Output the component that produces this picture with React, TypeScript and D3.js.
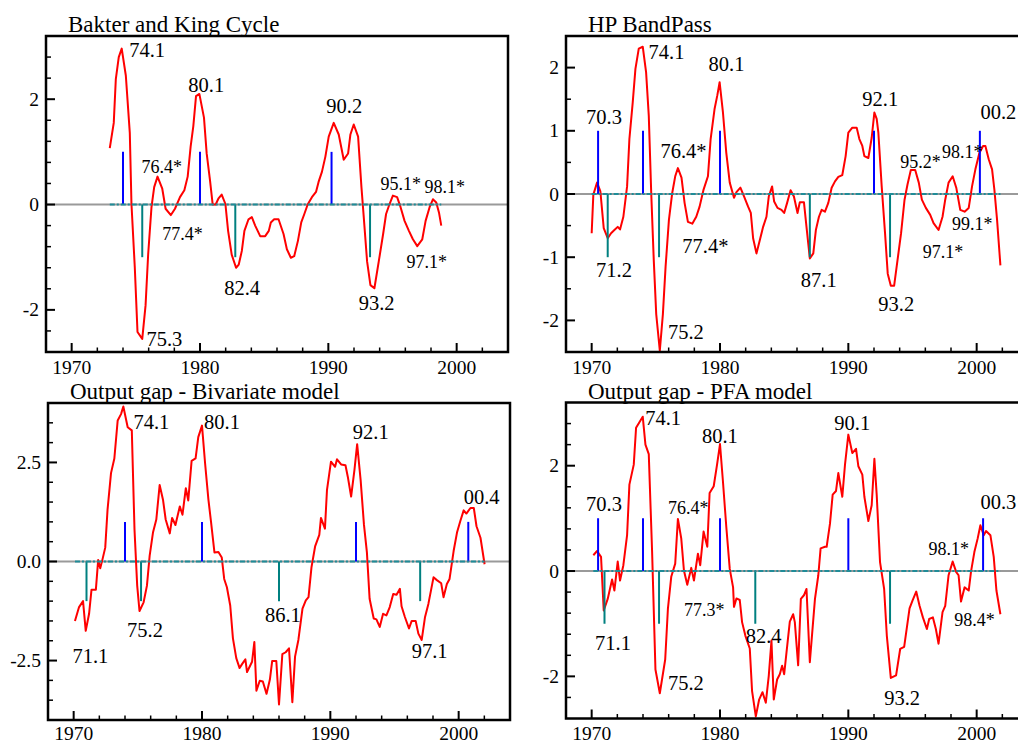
import React from 'react';
import * as d3 from 'd3';

type Pt = [number, number];
type Note = { text: string; t: number; v: number; small?: boolean };

// ---- Baxter-King cycle ----
const bkCycle: Pt[] = [
  [1972.97, 1.07], [1973.28, 1.55], [1973.44, 2.38], [1973.67, 2.8], [1973.9, 2.96], [1974.22, 2.45],
  [1974.53, 1.36], [1974.66, 0.01], [1974.92, -1.2], [1975.13, -2.42], [1975.5, -2.55], [1975.76, -1.91],
  [1975.96, -0.95], [1976.22, -0.05], [1976.43, 0.33], [1976.69, 0.53], [1977.06, 0.3], [1977.32, -0.08],
  [1977.73, -0.2], [1978.05, -0.08], [1978.44, 0.14], [1978.78, 0.27], [1979.04, 0.53], [1979.27, 1.1],
  [1979.48, 1.49], [1979.69, 2.06], [1979.95, 2.1], [1980.31, 1.65], [1980.52, 0.97], [1980.78, 0.46],
  [1980.99, 0.0], [1981.22, 0.0], [1981.43, 0.11], [1981.69, 0.19], [1981.98, 0.01], [1982.19, -0.5],
  [1982.47, -0.95], [1982.81, -1.2], [1983.02, -1.14], [1983.26, -0.88], [1983.46, -0.5], [1983.78, -0.28],
  [1984.04, -0.24], [1984.3, -0.4], [1984.69, -0.6], [1985.08, -0.6], [1985.36, -0.5], [1985.52, -0.34],
  [1985.78, -0.28], [1986.12, -0.28], [1986.51, -0.56], [1986.77, -0.85], [1987.08, -1.01], [1987.34, -0.98],
  [1987.63, -0.69], [1987.89, -0.34], [1988.13, -0.18], [1988.39, 0.0], [1988.72, 0.14], [1989.04, 0.24],
  [1989.24, 0.43], [1989.5, 0.62], [1989.77, 0.91], [1990.03, 1.29], [1990.42, 1.55], [1990.81, 1.33],
  [1991.2, 0.85], [1991.54, 0.97], [1991.72, 1.33], [1991.98, 1.52], [1992.32, 1.29], [1992.58, 0.33],
  [1992.76, -0.24], [1993.02, -1.08], [1993.28, -1.53], [1993.59, -1.59], [1993.93, -1.08], [1994.27, -0.56],
  [1994.5, -0.18], [1994.77, 0.01], [1995.03, 0.17], [1995.36, 0.14], [1995.63, -0.05], [1995.94, -0.31],
  [1996.28, -0.5], [1996.59, -0.66], [1996.93, -0.79], [1997.32, -0.66], [1997.58, -0.31], [1997.89, -0.05],
  [1998.15, 0.1], [1998.41, 0.04], [1998.62, -0.15], [1998.8, -0.4],
];
const bkPeaks = ['74.1', '80.1', '90.2'];
const bkTroughs = ['75.3', '82.4', '93.2'];
const bkNotes: Note[] = [
  { text: '74.1', t: 1974.48, v: 2.8 },
  { text: '80.1', t: 1979.09, v: 2.13 },
  { text: '76.4*', t: 1975.44, v: 0.59, small: true },
  { text: '77.4*', t: 1977.06, v: -0.67, small: true },
  { text: '82.4', t: 1981.88, v: -1.71 },
  { text: '75.3', t: 1975.83, v: -2.68 },
  { text: '90.2', t: 1989.84, v: 1.74 },
  { text: '93.2', t: 1992.37, v: -2.0 },
  { text: '95.1*', t: 1994.06, v: 0.28, small: true },
  { text: '98.1*', t: 1997.5, v: 0.22, small: true },
  { text: '97.1*', t: 1996.09, v: -1.2, small: true },
];

// ---- HP band-pass ----
const hpCycle: Pt[] = [
  [1970.0, -0.62], [1970.13, -0.01], [1970.42, 0.18], [1970.68, 0.04], [1970.94, -0.54], [1971.25, -0.7],
  [1971.51, -0.62], [1971.77, -0.57], [1972.03, -0.52], [1972.21, -0.56], [1972.47, -0.36], [1972.76, 0.12],
  [1972.94, 0.87], [1973.2, 1.45], [1973.41, 1.98], [1973.67, 2.3], [1973.98, 2.33], [1974.24, 1.93],
  [1974.45, 1.24], [1974.64, 0.02], [1974.84, -1.05], [1975.03, -1.9], [1975.31, -2.48], [1975.55, -1.9],
  [1975.76, -1.15], [1976.02, -0.41], [1976.28, 0.02], [1976.51, 0.28], [1976.72, 0.41], [1977.0, 0.26],
  [1977.24, -0.14], [1977.5, -0.44], [1977.84, -0.47], [1978.15, -0.36], [1978.41, -0.2], [1978.72, 0.07],
  [1979.06, 0.28], [1979.27, 0.87], [1979.58, 1.35], [1979.79, 1.56], [1979.97, 1.77], [1980.23, 1.29],
  [1980.49, 0.65], [1980.76, 0.18], [1981.09, -0.06], [1981.28, 0.03], [1981.59, 0.1], [1981.88, -0.04],
  [1982.19, -0.2], [1982.4, -0.3], [1982.58, -0.7], [1982.84, -0.94], [1983.1, -0.73], [1983.36, -0.52],
  [1983.62, -0.36], [1983.8, -0.04], [1984.06, 0.12], [1984.22, -0.12], [1984.48, -0.22], [1984.79, -0.25],
  [1985.0, -0.3], [1985.23, -0.14], [1985.5, 0.06], [1985.76, -0.04], [1986.04, -0.3], [1986.22, -0.13],
  [1986.54, -0.13], [1986.74, -0.52], [1987.0, -1.02], [1987.27, -0.94], [1987.47, -0.57], [1987.71, -0.36],
  [1987.92, -0.25], [1988.18, -0.28], [1988.44, -0.14], [1988.7, 0.1], [1988.96, 0.2], [1989.22, 0.27],
  [1989.53, 0.3], [1989.79, 0.6], [1990.0, 0.97], [1990.31, 1.05], [1990.65, 1.05], [1990.86, 0.87],
  [1991.09, 0.76], [1991.25, 0.6], [1991.56, 0.57], [1991.82, 0.89], [1992.03, 1.29], [1992.21, 1.19],
  [1992.34, 0.97], [1992.6, 0.12], [1992.86, -0.62], [1993.07, -1.26], [1993.31, -1.45], [1993.57, -1.45],
  [1993.83, -1.05], [1994.11, -0.62], [1994.38, -0.09], [1994.61, 0.15], [1994.87, 0.38], [1995.21, 0.38],
  [1995.49, 0.18], [1995.73, -0.09], [1996.04, -0.22], [1996.38, -0.33], [1996.64, -0.46], [1997.03, -0.57],
  [1997.34, -0.36], [1997.55, -0.09], [1997.81, 0.18], [1998.13, 0.28], [1998.41, 0.1], [1998.72, -0.25],
  [1999.06, -0.28], [1999.38, -0.22], [1999.64, 0.12], [1999.9, 0.39], [2000.21, 0.65], [2000.5, 0.76],
  [2000.68, 0.76], [2000.94, 0.55], [2001.2, 0.39], [2001.38, 0.07], [2001.59, -0.41], [2001.85, -1.13],
];
const hpPeaks = ['70.3', '74.1', '80.1', '92.1', '00.2'];
const hpTroughs = ['71.2', '75.2', '87.1', '93.2'];
const hpNotes: Note[] = [
  { text: '70.3', t: 1969.56, v: 1.11 },
  { text: '74.1', t: 1974.43, v: 2.13 },
  { text: '80.1', t: 1979.11, v: 1.94 },
  { text: '76.4*', t: 1975.36, v: 0.57 },
  { text: '71.2', t: 1970.34, v: -1.31 },
  { text: '77.4*', t: 1977.06, v: -0.93 },
  { text: '75.2', t: 1975.94, v: -2.3 },
  { text: '87.1', t: 1986.3, v: -1.47 },
  { text: '92.1', t: 1991.09, v: 1.4 },
  { text: '93.2', t: 1992.34, v: -1.85 },
  { text: '95.2*', t: 1994.04, v: 0.41, small: true },
  { text: '98.1*', t: 1997.29, v: 0.57, small: true },
  { text: '00.2', t: 2000.29, v: 1.19 },
  { text: '99.1*', t: 1998.07, v: -0.57, small: true },
  { text: '97.1*', t: 1995.8, v: -1.01, small: true },
];

// ---- Output gap, bivariate model ----
const bivGap: Pt[] = [
  [1970.1, -1.5], [1970.42, -1.15], [1970.73, -1.0], [1970.94, -1.75], [1971.2, -1.32], [1971.39, -0.71],
  [1971.73, -0.71], [1971.91, 0.04], [1972.07, -0.17], [1972.25, 0.06], [1972.46, 0.35], [1972.64, 1.31],
  [1972.91, 2.23], [1973.17, 2.6], [1973.43, 3.56], [1973.69, 3.72], [1973.87, 3.91], [1974.21, 3.39],
  [1974.53, 3.31], [1974.74, 0.81], [1974.95, -0.61], [1975.13, -1.25], [1975.45, -1.03], [1975.71, -0.61],
  [1975.92, 0.14], [1976.18, 0.73], [1976.44, 1.06], [1976.7, 1.93], [1976.96, 1.56], [1977.17, 1.06],
  [1977.49, 0.71], [1977.67, 1.1], [1977.93, 0.92], [1978.27, 1.39], [1978.48, 1.18], [1978.74, 1.85],
  [1978.93, 1.54], [1979.19, 2.54], [1979.5, 2.6], [1979.71, 3.14], [1980.0, 3.43], [1980.24, 2.48],
  [1980.5, 1.56], [1980.71, 0.98], [1980.97, 0.23], [1981.28, 0.24], [1981.54, 0.1], [1981.73, -0.44],
  [1981.94, -0.65], [1982.2, -1.11], [1982.41, -1.94], [1982.67, -2.44], [1982.93, -2.69], [1983.12, -2.59],
  [1983.38, -2.47], [1983.51, -2.79], [1983.72, -2.65], [1983.9, -2.53], [1984.08, -2.03], [1984.24, -3.26],
  [1984.5, -3.01], [1984.74, -3.03], [1985.03, -3.34], [1985.29, -2.98], [1985.47, -2.51], [1985.79, -2.51],
  [1986.0, -3.61], [1986.26, -2.34], [1986.52, -2.29], [1986.78, -2.19], [1987.04, -3.55], [1987.25, -2.4],
  [1987.51, -1.98], [1987.83, -1.19], [1988.09, -0.98], [1988.3, -0.9], [1988.53, -0.15], [1988.82, 0.39],
  [1989.14, 0.67], [1989.27, 1.1], [1989.58, 0.83], [1989.74, 1.81], [1990.05, 2.52], [1990.37, 2.39],
  [1990.52, 2.58], [1990.84, 2.45], [1991.18, 2.43], [1991.36, 2.14], [1991.62, 1.64], [1991.88, 2.31],
  [1992.09, 2.96], [1992.36, 2.06], [1992.62, 0.93], [1992.85, 0.23], [1993.06, -0.94], [1993.38, -1.44],
  [1993.59, -1.46], [1993.85, -1.65], [1994.11, -1.32], [1994.37, -1.36], [1994.63, -1.15], [1994.9, -0.82],
  [1995.16, -0.84], [1995.42, -0.69], [1995.55, -1.13], [1995.81, -1.4], [1996.13, -1.69], [1996.34, -1.5],
  [1996.65, -1.5], [1996.86, -1.82], [1997.12, -1.98], [1997.38, -1.4], [1997.64, -1.07], [1998.04, -0.4],
  [1998.3, -0.47], [1998.64, -0.55], [1998.82, -0.9], [1999.08, -0.57], [1999.29, -0.44], [1999.61, 0.27],
  [1999.87, 0.73], [2000.13, 1.02], [2000.39, 1.29], [2000.6, 1.21], [2000.92, 1.35], [2001.18, 1.35],
  [2001.39, 0.89], [2001.7, 0.6], [2002.02, -0.07],
];
const bivPeaks = ['74.1', '80.1', '92.1', '00.4'];
const bivTroughs = ['71.1', '75.2', '86.1', '97.1'];
const bivNotes: Note[] = [
  { text: '74.1', t: 1974.66, v: 3.35 },
  { text: '80.1', t: 1980.16, v: 3.35 },
  { text: '92.1', t: 1991.75, v: 3.1 },
  { text: '00.4', t: 2000.39, v: 1.46 },
  { text: '75.2', t: 1974.16, v: -1.9 },
  { text: '71.1', t: 1969.9, v: -2.57 },
  { text: '86.1', t: 1984.9, v: -1.53 },
  { text: '97.1', t: 1996.34, v: -2.44 },
];

// ---- Output gap, PFA model ----
const pfaGap: Pt[] = [
  [1970.13, 0.3], [1970.42, 0.38], [1970.73, 0.27], [1970.94, -0.75], [1971.25, -0.53], [1971.59, -0.16],
  [1971.77, -0.37], [1972.03, 0.18], [1972.21, -0.18], [1972.47, 0.11], [1972.76, 0.68], [1972.94, 1.64],
  [1973.28, 2.02], [1973.46, 2.72], [1973.98, 2.93], [1974.19, 2.4], [1974.45, 2.22], [1974.71, 0.36],
  [1974.97, -1.87], [1975.31, -2.32], [1975.73, -1.68], [1975.94, -0.72], [1976.2, -0.11], [1976.51, 0.14],
  [1976.72, 0.99], [1976.98, 0.62], [1977.19, 0.01], [1977.45, -0.26], [1977.76, 0.06], [1977.97, -0.18],
  [1978.28, 0.33], [1978.46, 0.11], [1978.72, 0.75], [1979.01, 0.46], [1979.19, 1.48], [1979.51, 1.61],
  [1979.77, 2.02], [1980.0, 2.41], [1980.23, 1.7], [1980.49, 0.84], [1980.76, 0.04], [1981.02, -0.31],
  [1981.09, -0.68], [1981.28, -0.52], [1981.54, -0.55], [1981.72, -0.97], [1981.98, -1.23], [1982.32, -1.47],
  [1982.5, -2.28], [1982.79, -2.76], [1983.05, -2.44], [1983.31, -2.3], [1983.57, -2.5], [1983.8, -1.99],
  [1984.01, -1.32], [1984.19, -2.44], [1984.45, -2.06], [1984.66, -1.96], [1984.84, -1.8], [1985.0, -1.96],
  [1985.18, -1.55], [1985.44, -0.96], [1985.7, -0.82], [1985.83, -0.97], [1986.09, -1.79], [1986.3, -0.53],
  [1986.54, -0.46], [1986.74, -0.34], [1987.0, -1.73], [1987.4, -0.53], [1987.66, -0.08], [1987.84, 0.43],
  [1988.18, 0.46], [1988.31, 0.46], [1988.57, 0.9], [1988.78, 1.45], [1989.04, 1.52], [1989.22, 1.86],
  [1989.53, 1.41], [1989.74, 2.02], [1990.0, 2.59], [1990.31, 2.24], [1990.6, 2.32], [1990.78, 1.99],
  [1991.09, 1.83], [1991.25, 1.41], [1991.56, 0.95], [1991.82, 1.25], [1992.03, 2.13], [1992.21, 1.45],
  [1992.47, 0.17], [1992.79, -0.34], [1993.0, -1.23], [1993.31, -2.03], [1993.72, -1.98], [1994.04, -1.48],
  [1994.35, -1.44], [1994.77, -0.71], [1995.0, -0.56], [1995.29, -0.39], [1995.55, -0.66], [1995.81, -0.88],
  [1996.12, -1.1], [1996.3, -0.91], [1996.59, -0.88], [1996.82, -1.1], [1997.03, -1.38], [1997.34, -0.78],
  [1997.55, -0.66], [1997.81, -0.08], [1998.13, 0.18], [1998.41, -0.02], [1998.59, -0.08], [1998.78, -0.58],
  [1999.06, -0.31], [1999.38, -0.37], [1999.56, -0.01], [1999.82, 0.36], [2000.08, 0.62], [2000.29, 0.87],
  [2000.55, 0.68], [2000.73, 0.76], [2001.07, 0.68], [2001.33, 0.27], [2001.54, -0.37], [2001.85, -0.82],
];
const pfaPeaks = ['70.3', '74.1', '80.1', '90.1', '00.3'];
const pfaTroughs = ['71.1', '75.2', '82.4', '93.2'];
const pfaNotes: Note[] = [
  { text: '70.3', t: 1969.56, v: 1.14 },
  { text: '74.1', t: 1974.17, v: 2.78 },
  { text: '80.1', t: 1978.59, v: 2.43 },
  { text: '76.4*', t: 1975.94, v: 1.09, small: true },
  { text: '90.1', t: 1988.91, v: 2.68 },
  { text: '00.3', t: 2000.29, v: 1.18 },
  { text: '98.1*', t: 1996.25, v: 0.3, small: true },
  { text: '71.1', t: 1970.26, v: -1.5 },
  { text: '77.3*', t: 1977.19, v: -0.85, small: true },
  { text: '82.4', t: 1982.0, v: -1.37 },
  { text: '75.2', t: 1975.94, v: -2.25 },
  { text: '93.2', t: 1992.79, v: -2.55 },
  { text: '98.4*', t: 1998.26, v: -1.04, small: true },
];

const xDomain: [number, number] = [1968, 2004];
const xMajorTicks = [1970, 1980, 1990, 2000];

// "74.1" -> 1974.0, "00.2" -> 2000.25
const quarterTime = (q: string) => {
  const [yy, qq] = q.split('.');
  const y = +yy;
  return (y < 50 ? 2000 + y : 1900 + y) + (+qq - 1) / 4;
};

const FONT = "'Liberation Serif', 'Times New Roman', Times, serif";

type PanelCfg = {
  title: string;
  series: Pt[];
  peaks: string[];
  troughs: string[];
  notes: Note[];
  left: number;
  right: number;
  top: number;
  bottom: number;
  yDomain: [number, number];
  yMajor: number[];
  yStep: number;
  yFmt: (v: number) => string;
};

const panels: PanelCfg[] = [
  {
    title: 'Bakter and King Cycle', series: bkCycle, peaks: bkPeaks, troughs: bkTroughs, notes: bkNotes,
    left: 46, right: 508, top: 36, bottom: 352, yDomain: [-2.8, 3.2], yMajor: [-2, 0, 2], yStep: 0.4,
    yFmt: (v) => String(v),
  },
  {
    title: 'HP BandPass', series: hpCycle, peaks: hpPeaks, troughs: hpTroughs, notes: hpNotes,
    left: 566, right: 1028, top: 36, bottom: 352, yDomain: [-2.5, 2.5], yMajor: [-2, -1, 0, 1, 2], yStep: 0.5,
    yFmt: (v) => String(v),
  },
  {
    title: 'Output gap - Bivariate model', series: bivGap, peaks: bivPeaks, troughs: bivTroughs, notes: bivNotes,
    left: 48, right: 510, top: 403, bottom: 720, yDomain: [-4, 4], yMajor: [-2.5, 0, 2.5], yStep: 0.5,
    yFmt: (v) => v.toFixed(1),
  },
  {
    title: 'Output gap - PFA model', series: pfaGap, peaks: pfaPeaks, troughs: pfaTroughs, notes: pfaNotes,
    left: 566, right: 1028, top: 402.5, bottom: 718.5, yDomain: [-2.8, 3.2], yMajor: [-2, 0, 2], yStep: 0.4,
    yFmt: (v) => String(v),
  },
];

function Panel({ cfg }: { cfg: PanelCfg }) {
  const x = d3.scaleLinear().domain(xDomain).range([cfg.left, cfg.right]);
  const y = d3.scaleLinear().domain(cfg.yDomain).range([cfg.bottom, cfg.top]);
  const line = d3.line<Pt>().x((d) => x(d[0])).y((d) => y(d[1]));

  const xMinor = d3.range(xDomain[0] + 2, xDomain[1], 2).filter((v) => !xMajorTicks.includes(v));
  const n0 = Math.ceil(cfg.yDomain[0] / cfg.yStep - 1e-6);
  const n1 = Math.floor(cfg.yDomain[1] / cfg.yStep + 1e-6);
  const yMinor = d3
    .range(n0, n1 + 1)
    .map((n) => +(n * cfg.yStep).toFixed(4))
    .filter((v) => !cfg.yMajor.some((m) => Math.abs(m - v) < 1e-6))
    .filter((v) => v > cfg.yDomain[0] + 1e-6 && v < cfg.yDomain[1] - 1e-6);

  const t0 = cfg.series[0][0];
  const t1 = cfg.series[cfg.series.length - 1][0];
  const y0 = y(0);
  const clipId = 'clip-' + cfg.title.replace(/\W/g, '');

  return (
    <g>
      <defs>
        <clipPath id={clipId}>
          <rect x={cfg.left} y={cfg.top} width={cfg.right - cfg.left} height={cfg.bottom - cfg.top} />
        </clipPath>
      </defs>
      <text x={cfg.left + 22} y={cfg.top - 4} fontSize={23} fontFamily={FONT} fill="#000">
        {cfg.title}
      </text>

      {/* zero reference */}
      <line x1={cfg.left} x2={cfg.right} y1={y0} y2={y0} stroke="#9a9a9a" strokeWidth={2} />

      <g clipPath={`url(#${clipId})`}>
        <path d={line(cfg.series) ?? ''} fill="none" stroke="#ff0000" strokeWidth={2} strokeLinejoin="round" />
        {cfg.peaks.map((p) => (
          <line key={'p' + p} x1={x(quarterTime(p))} x2={x(quarterTime(p))} y1={y0} y2={y(1)} stroke="#0000ff" strokeWidth={2} />
        ))}
        {cfg.troughs.map((p) => (
          <line key={'t' + p} x1={x(quarterTime(p))} x2={x(quarterTime(p))} y1={y0} y2={y(-1)} stroke="#008080" strokeWidth={2} />
        ))}
        <line x1={x(t0)} x2={x(t1)} y1={y0} y2={y0} stroke="#1f8c98" strokeWidth={2} strokeDasharray="5 2 2 2" />
      </g>

      {cfg.notes.map((n) => (
        <text key={n.text + n.t} x={x(n.t)} y={y(n.v)} fontSize={n.small ? 18 : 20.5} fontFamily={FONT} fill="#000">
          {n.text}
        </text>
      ))}

      {/* frame */}
      <rect x={cfg.left} y={cfg.top} width={cfg.right - cfg.left} height={cfg.bottom - cfg.top} fill="none" stroke="#000" strokeWidth={2.5} />

      {/* y ticks (inward) */}
      {cfg.yMajor.map((v) => (
        <g key={'ym' + v}>
          <line x1={cfg.left} x2={cfg.left + 9} y1={y(v)} y2={y(v)} stroke="#000" strokeWidth={2} />
          <text x={cfg.left - 7} y={y(v) + 6.5} textAnchor="end" fontSize={19.5} fontFamily={FONT} fill="#000">
            {cfg.yFmt(v)}
          </text>
        </g>
      ))}
      {yMinor.map((v) => (
        <line key={'yn' + v} x1={cfg.left} x2={cfg.left + 5} y1={y(v)} y2={y(v)} stroke="#000" strokeWidth={1.5} />
      ))}

      {/* x ticks (inward) */}
      {xMajorTicks.map((v) => (
        <g key={'xm' + v}>
          <line x1={x(v)} x2={x(v)} y1={cfg.bottom} y2={cfg.bottom - 9} stroke="#000" strokeWidth={2} />
          <text x={x(v)} y={Math.min(cfg.bottom + 22, 740)} textAnchor="middle" fontSize={19.5} fontFamily={FONT} fill="#000">
            {v}
          </text>
        </g>
      ))}
      {xMinor.map((v) => (
        <line key={'xn' + v} x1={x(v)} x2={x(v)} y1={cfg.bottom} y2={cfg.bottom - 4.5} stroke="#000" strokeWidth={1.5} />
      ))}
    </g>
  );
}

export default function App() {
  return (
    <svg
      width={1018}
      height={744}
      style={{ position: 'absolute', left: 0, top: 0, background: '#fff', display: 'block' }}
    >
      <rect x={0} y={0} width={1018} height={744} fill="#fff" />
      {panels.map((p) => (
        <Panel key={p.title} cfg={p} />
      ))}
    </svg>
  );
}
